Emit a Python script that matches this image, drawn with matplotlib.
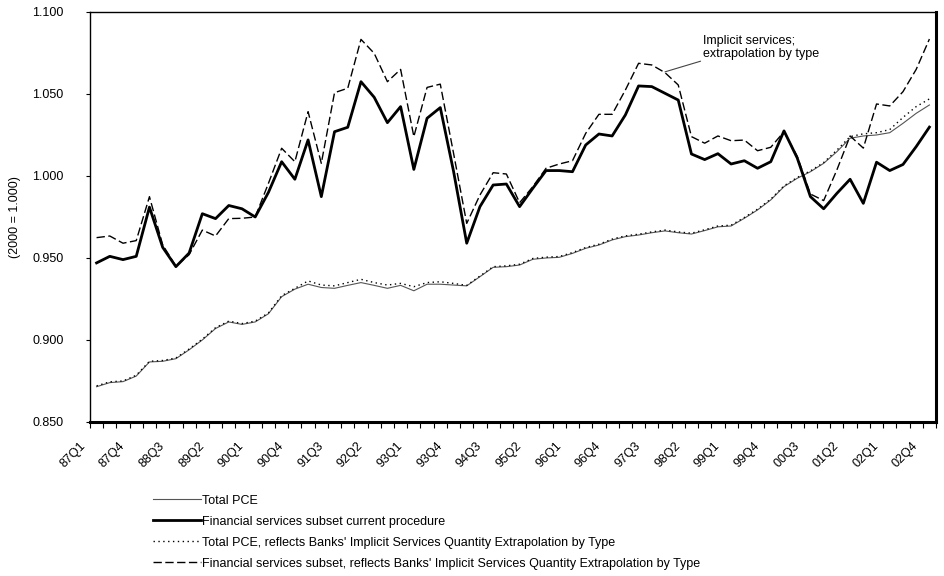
import numpy as np
import matplotlib
matplotlib.use("Agg")
import matplotlib.pyplot as plt
import matplotlib.transforms as mtransforms

plt.rcParams["font.family"] = ["Liberation Sans", "DejaVu Sans"]

# quarters 87Q1 .. 02Q4
quarters = [f"{y % 100:02d}Q{q}" for y in range(1987, 2003) for q in range(1, 5)]

tick_labels = ["87Q1", "87Q4", "88Q3", "89Q2", "90Q1", "90Q4", "91Q3", "92Q2",
               "93Q1", "93Q4", "94Q3", "95Q2", "96Q1", "96Q4", "97Q3", "98Q2",
               "99Q1", "99Q4", "00Q3", "01Q2", "02Q1", "02Q4"]

total_pce = [0.8715, 0.8740, 0.8746, 0.8780, 0.8866, 0.8870, 0.8886, 0.8940,
             0.9000, 0.9070, 0.9110, 0.9095, 0.9110, 0.9160, 0.9264, 0.9310,
             0.9340, 0.9320, 0.9315, 0.9333, 0.9350, 0.9333, 0.9315, 0.9333,
             0.9300, 0.9340, 0.9340, 0.9335, 0.9330, 0.9386, 0.9443, 0.9447,
             0.9457, 0.9492, 0.9500, 0.9504, 0.9528, 0.9559, 0.9579, 0.9610,
             0.9630, 0.9640, 0.9654, 0.9665, 0.9654, 0.9646, 0.9667, 0.9690,
             0.9695, 0.9742, 0.9793, 0.9854, 0.9935, 0.9986, 1.0026, 1.0077,
             1.0148, 1.0230, 1.0244, 1.0250, 1.0264, 1.0321, 1.0382, 1.0433]

fin_current = [0.9470, 0.9510, 0.9490, 0.9510, 0.9810, 0.9565, 0.9447, 0.9530,
               0.9770, 0.9740, 0.9820, 0.9800, 0.9750, 0.9900, 1.0087, 0.9980,
               1.0220, 0.9874, 1.0270, 1.0297, 1.0575, 1.0480, 1.0325, 1.0423,
               1.0040, 1.0352, 1.0417, 1.0030, 0.9590, 0.9813, 0.9945, 0.9951,
               0.9813, 0.9925, 1.0033, 1.0033, 1.0026, 1.0189, 1.0256, 1.0244,
               1.0372, 1.0549, 1.0545, 1.0504, 1.0463, 1.0134, 1.0100, 1.0136,
               1.0073, 1.0093, 1.0047, 1.0087, 1.0275, 1.0110, 0.9874, 0.9800,
               0.9894, 0.9980, 0.9833, 1.0084, 1.0033, 1.0070, 1.0179, 1.0298]

total_pce_ext = [0.8720, 0.8745, 0.8750, 0.8785, 0.8870, 0.8875, 0.8890, 0.8945,
                 0.9005, 0.9075, 0.9115, 0.9100, 0.9115, 0.9165, 0.9270, 0.9315,
                 0.9360, 0.9335, 0.9330, 0.9350, 0.9370, 0.9350, 0.9335, 0.9345,
                 0.9325, 0.9350, 0.9355, 0.9345, 0.9333, 0.9390, 0.9447, 0.9452,
                 0.9462, 0.9497, 0.9505, 0.9509, 0.9533, 0.9564, 0.9584, 0.9615,
                 0.9635, 0.9645, 0.9659, 0.9670, 0.9659, 0.9651, 0.9672, 0.9695,
                 0.9700, 0.9747, 0.9798, 0.9859, 0.9940, 0.9991, 1.0031, 1.0082,
                 1.0158, 1.0240, 1.0257, 1.0264, 1.0283, 1.0357, 1.0423, 1.0470]

fin_ext = [0.9624, 0.9634, 0.9590, 0.9606, 0.9874, 0.9580, 0.9450, 0.9520,
           0.9670, 0.9634, 0.9740, 0.9742, 0.9750, 0.9955, 1.0169, 1.0087,
           1.0392, 1.0077, 1.0508, 1.0535, 1.0833, 1.0748, 1.0575, 1.0650,
           1.0240, 1.0540, 1.0560, 1.0140, 0.9711, 0.9884, 1.0020, 1.0012,
           0.9837, 0.9935, 1.0047, 1.0073, 1.0093, 1.0260, 1.0376, 1.0376,
           1.0524, 1.0687, 1.0677, 1.0630, 1.0555, 1.0240, 1.0200, 1.0244,
           1.0215, 1.0219, 1.0154, 1.0175, 1.0270, 1.0120, 0.9890, 0.9850,
           1.0037, 1.0244, 1.0170, 1.0439, 1.0427, 1.0514, 1.0650, 1.0835]

x = np.arange(len(quarters))

fig = plt.figure(figsize=(9.45, 5.76), dpi=100)
ax = fig.add_axes([0.0952, 0.2674, 0.8953, 0.7118])

ax.plot(x, total_pce, color="#555555", lw=0.8, label="Total PCE")
ax.plot(x, fin_current, color="black", lw=2.0,
        label="Financial services subset current procedure")
ax.plot(x, total_pce_ext, color="black", lw=1.0, linestyle=(0, (1, 2.5)),
        label="Total PCE, reflects Banks' Implicit Services Quantity Extrapolation by Type")
ax.plot(x, fin_ext, color="black", lw=1.0, linestyle=(0, (6, 2.5)),
        label="Financial services subset, reflects Banks' Implicit Services Quantity Extrapolation by Type")

ax.annotate("Implicit services;\nextrapolation by type",
            xy=(43.0, 1.0635), xytext=(45.9, 1.0705),
            fontsize=9, ha="left", va="bottom", linespacing=1.1,
            arrowprops=dict(arrowstyle="-", color="#444444", lw=0.8,
                            shrinkA=0, shrinkB=0, relpos=(0, 0)))

ax.set_xlim(-0.5, 63.5)
ax.set_ylim(0.85, 1.10)
ax.set_yticks(np.arange(0.85, 1.1001, 0.05))
ax.set_yticklabels([f"{v:.3f}" for v in np.arange(0.85, 1.1001, 0.05)])
ax.set_ylabel("(2000 = 1.000)", fontsize=9, labelpad=8)

ax.set_xticks(x[::3])
ax.set_xticklabels(tick_labels, rotation=45, ha="right", va="center",
                   rotation_mode="anchor")
ax.set_xticks(np.arange(-0.5, 64, 1), minor=True)
ax.tick_params(axis="x", which="major", length=0, pad=16, labelsize=9)
ax.tick_params(axis="x", which="minor", length=4, direction="out", width=0.8)
ax.tick_params(axis="y", length=3, direction="out", pad=16, labelsize=9)

offset = mtransforms.ScaledTranslation(-13 / 100, 0, fig.dpi_scale_trans)
for lab in ax.get_xticklabels():
    lab.set_transform(lab.get_transform() + offset)

for side in ["top", "left"]:
    ax.spines[side].set_linewidth(1.0)
for side in ["right", "bottom"]:
    ax.spines[side].set_linewidth(2.2)

ax.legend(loc="upper left", bbox_to_anchor=(0.162, 0.141),
          bbox_transform=fig.transFigure, frameon=False, fontsize=9,
          handlelength=3.8, handletextpad=0.15, labelspacing=0.72,
          borderpad=0, borderaxespad=0)

fig.savefig("out.png", dpi=100)
